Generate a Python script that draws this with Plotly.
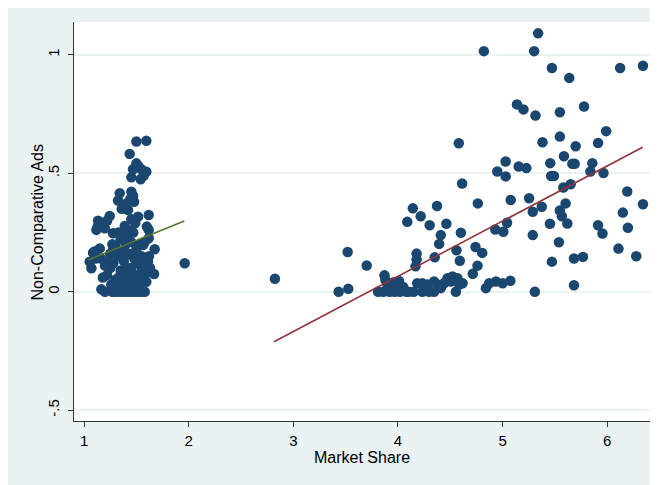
import plotly.graph_objects as go

# Low market-share group
share_low = [1.50, 1.595, 1.436,
             1.50, 1.468, 1.547, 1.595, 1.452, 1.541, 1.52, 1.57,
             1.341, 1.452, 1.468, 1.44,
             1.325, 1.382, 1.42, 1.478, 1.40, 1.36,
             1.618, 1.134, 1.245, 1.118, 1.198, 1.277, 1.16, 1.22, 1.13,
             1.389, 1.452, 1.516, 1.404, 1.43, 1.49, 1.47,
             1.618, 1.60, 1.618, 1.564, 1.58, 1.675, 1.962,
             1.086, 1.15, 1.054, 1.07, 1.11, 1.10,
             1.611, 1.669, 1.63, 1.62,
             1.18, 1.22, 1.25, 1.28, 1.20, 1.16, 1.25, 1.30, 1.28, 1.33, 1.35, 1.30,
             1.38, 1.40, 1.40, 1.35, 1.43, 1.45, 1.45, 1.48, 1.50, 1.50, 1.52, 1.55,
             1.55, 1.58, 1.52, 1.47, 1.42, 1.37, 1.31, 1.26, 1.33, 1.36, 1.41, 1.46,
             1.53, 1.38, 1.33, 1.27, 1.23, 1.56,
             1.165, 1.20, 1.27, 1.32, 1.36, 1.40, 1.44, 1.48, 1.52, 1.56, 1.58,
             1.595, 1.535, 1.29]
ads_low = [0.634, 0.637, 0.582,
           0.542, 0.517, 0.517, 0.507, 0.483, 0.475, 0.53, 0.49,
           0.416, 0.422, 0.405, 0.39,
           0.385, 0.366, 0.345, 0.38, 0.37, 0.35,
           0.324, 0.30, 0.32, 0.261, 0.268, 0.247, 0.29, 0.30, 0.275,
           0.278, 0.306, 0.317, 0.232, 0.26, 0.29, 0.25,
           0.261, 0.275, 0.226, 0.197, 0.21, 0.179, 0.12,
           0.165, 0.183, 0.127, 0.099, 0.14, 0.17,
           0.127, 0.075, 0.10, 0.15,
           0.06, 0.07, 0.10, 0.12, 0.11, 0.14, 0.16, 0.19, 0.18, 0.15, 0.09, 0.05,
           0.13, 0.06, 0.20, 0.22, 0.16, 0.10, 0.21, 0.14, 0.07, 0.18, 0.12, 0.10,
           0.15, 0.07, 0.03, 0.04, 0.02, 0.03, 0.01, 0.03, 0.06, 0.17, 0.10, 0.07,
           0.20, 0.24, 0.25, 0.20, 0.13, 0.05,
           0.01, 0.0, 0.0, 0.0, 0.0, 0.0, 0.0, 0.0, 0.0, 0.0, 0.0,
           0.042, 0.035, 0.0]

# High market-share group
share_high = [2.824, 3.433, 3.525, 3.519, 3.701, 3.871,
              3.81, 3.86, 3.92, 3.97, 4.02, 4.08, 4.10, 3.90, 3.96, 4.01, 3.99, 3.93, 4.05, 3.88,
              4.089, 4.142, 4.217, 4.178, 4.178, 4.168, 4.303, 4.373, 4.409, 4.393, 4.351,
              4.462, 4.581, 4.613, 4.601, 4.559, 4.591,
              4.184, 4.233, 4.281, 4.345, 4.377, 4.441, 4.473, 4.521, 4.569, 4.617,
              4.233, 4.297, 4.345, 4.553, 4.505, 4.585, 4.409, 4.15,
              4.715, 4.76, 4.741, 4.805, 4.763, 4.821, 4.84, 4.872, 4.936, 5.0, 5.074,
              4.93, 5.007, 5.042, 4.949, 5.029, 5.029, 5.077, 5.137, 5.199, 5.154,
              5.227, 5.253, 5.288, 5.288, 5.301, 5.339, 5.314, 5.308, 5.381, 5.374,
              5.471, 5.547, 5.547, 5.455, 5.464, 5.49, 5.586, 5.58, 5.65, 5.602,
              5.547, 5.566, 5.452, 5.618, 5.538, 5.471, 5.637, 5.666, 5.689, 5.698,
              5.778, 5.682, 5.768, 5.682, 5.857, 5.839, 5.912, 5.989, 5.964, 5.912,
              5.954, 6.107, 6.123, 6.341, 6.191, 6.149, 6.197, 6.277, 6.341]
ads_high = [0.055, 0.0, 0.012, 0.168, 0.111, 0.069,
            0.0, 0.0, 0.0, 0.0, 0.0, 0.0, 0.0, 0.03, 0.04, 0.045, 0.02, 0.015, 0.02, 0.05,
            0.295, 0.352, 0.319, 0.161, 0.136, 0.107, 0.281, 0.362, 0.239, 0.202, 0.145,
            0.287, 0.627, 0.457, 0.249, 0.175, 0.131,
            0.036, 0.036, 0.03, 0.043, 0.03, 0.036, 0.057, 0.064, 0.057, 0.036,
            0.0, 0.0, 0.0, 0.0, 0.043, 0.03, 0.015, 0.0,
            0.076, 0.11, 0.189, 0.164, 0.373, 1.016, 0.015, 0.036, 0.043, 0.036, 0.046,
            0.263, 0.253, 0.291, 0.508, 0.55, 0.487, 0.387, 0.791, 0.77, 0.529,
            0.522, 0.395, 0.338, 0.239, 1.016, 1.091, 0.744, 0.0, 0.631, 0.359,
            0.945, 0.758, 0.655, 0.543, 0.489, 0.489, 0.572, 0.44, 0.454, 0.373,
            0.343, 0.319, 0.287, 0.288, 0.209, 0.127, 0.903, 0.54, 0.54, 0.614,
            0.782, 0.14, 0.147, 0.027, 0.543, 0.508, 0.628, 0.678, 0.501, 0.281,
            0.246, 0.182, 0.945, 0.954, 0.423, 0.334, 0.27, 0.15, 0.369]

# Fitted lines (endpoints)
fit_low_x = [1.04, 1.958]
fit_low_y = [0.134, 0.299]
fit_high_x = [2.815, 6.338]
fit_high_y = [-0.211, 0.610]

x_ticks = [1, 2, 3, 4, 5, 6]
y_ticks = [-0.5, 0, 0.5, 1]
y_tick_text = ["-.5", "0", ".5", "1"]
x_title = "Market Share"
y_title = "Non-Comparative Ads"

navy = "#1A476F"
fig = go.Figure()
fig.add_trace(go.Scatter(x=share_low + share_high, y=ads_low + ads_high, mode="markers",
                         marker=dict(size=10.5, color=navy, line=dict(width=0)),
                         hoverinfo="skip"))
fig.add_trace(go.Scatter(x=fit_low_x, y=fit_low_y, mode="lines",
                         line=dict(color="#55752F", width=1.6)))
fig.add_trace(go.Scatter(x=fit_high_x, y=fit_high_y, mode="lines",
                         line=dict(color="#90353B", width=1.6)))

# page body has an 8px margin, so the figure is sized/offset to compensate
W, H = 650, 477
L, R, T, B = 66, 5, 14, 64

fig.update_layout(
    width=W, height=H,
    margin=dict(l=L, r=R, t=T, b=B, autoexpand=False),
    paper_bgcolor="#EAF2F3", plot_bgcolor="white",
    showlegend=False,
    font=dict(family="Liberation Sans, Arial, sans-serif", size=16, color="#000000"),
    annotations=[
        dict(text=x_title, xref="paper", yref="paper", x=0.497, y=-0.0915,
             xanchor="center", yanchor="middle", showarrow=False, font=dict(size=16)),
        dict(text=y_title, xref="paper", yref="paper", x=-0.0639, y=0.4975,
             xanchor="center", yanchor="middle", textangle=-90, showarrow=False,
             font=dict(size=16)),
    ],
)
fig.update_xaxes(
    range=[0.904, 6.437], tickvals=x_ticks, showgrid=False, zeroline=False,
    showline=True, linecolor="#333333", linewidth=1, automargin=False,
    ticks="outside", ticklen=5, tickcolor="#333333", tickfont=dict(size=15),
    ticklabelstandoff=1,
)
fig.update_yaxes(
    range=[-0.546, 1.139], tickvals=y_ticks, ticktext=y_tick_text, tickangle=-90,
    showgrid=True, gridcolor="#EAF2F3", gridwidth=1.5, zeroline=False,
    showline=True, linecolor="#333333", linewidth=1, automargin=False,
    ticks="outside", ticklen=5, tickcolor="#333333", tickfont=dict(size=15),
    ticklabelstandoff=3,
)

fig.write_html("out.html")
